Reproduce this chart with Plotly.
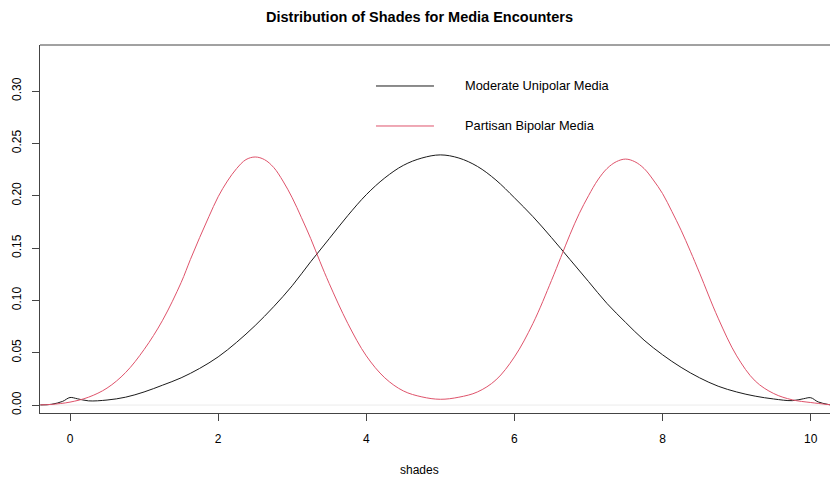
import plotly.graph_objects as go

# Kernel density estimates of shades, read at regular points
unipolar_x = [-0.4, -0.25, -0.1, 0.0, 0.1, 0.25, 0.5, 0.75, 1.0, 1.25, 1.5, 1.75,
              2.0, 2.25, 2.5, 2.75, 3.0, 3.25, 3.5, 3.75, 4.0, 4.25, 4.5, 4.75,
              5.0, 5.25, 5.5, 5.75, 6.0, 6.25, 6.5, 6.75, 7.0, 7.25, 7.5, 7.75,
              8.0, 8.25, 8.5, 8.75, 9.0, 9.25, 9.5, 9.75, 9.9, 10.0, 10.1, 10.26]
unipolar_y = [0.0001, 0.0007, 0.0035, 0.0072, 0.0060, 0.0040, 0.0048, 0.0075, 0.0125, 0.019, 0.026, 0.035,
              0.046, 0.060, 0.076, 0.094, 0.114, 0.137, 0.159, 0.181, 0.201, 0.217, 0.229, 0.236,
              0.239, 0.236, 0.228, 0.215, 0.198, 0.180, 0.160, 0.139, 0.118, 0.097, 0.079, 0.062,
              0.048, 0.036, 0.026, 0.018, 0.0125, 0.0085, 0.0058, 0.0042, 0.0060, 0.0070, 0.0030, 0.0002]

bipolar_x = [-0.4, -0.25, 0.0, 0.25, 0.5, 0.75, 1.0, 1.25, 1.5, 1.625, 1.75, 1.875, 2.0, 2.125, 2.25, 2.375,
             2.5, 2.625, 2.75, 2.875, 3.0, 3.125, 3.25, 3.375, 3.5, 3.75, 4.0, 4.25, 4.5, 4.75, 5.0, 5.25,
             5.5, 5.75, 6.0, 6.25, 6.5, 6.625, 6.75, 6.875, 7.0, 7.125, 7.25, 7.375, 7.5, 7.625, 7.75, 7.875,
             8.0, 8.125, 8.25, 8.375, 8.5, 8.75, 9.0, 9.25, 9.5, 9.75, 10.0, 10.26]
bipolar_y = [0.0002, 0.0006, 0.0028, 0.0075, 0.0162, 0.031, 0.053, 0.081, 0.117, 0.139, 0.160, 0.180, 0.199, 0.214, 0.226, 0.2345,
             0.237, 0.2345, 0.227, 0.214, 0.198, 0.179, 0.159, 0.137, 0.116, 0.078, 0.047, 0.026, 0.0135, 0.0078, 0.0055, 0.0075,
             0.0125, 0.024, 0.046, 0.078, 0.119, 0.141, 0.163, 0.183, 0.200, 0.215, 0.226, 0.2325, 0.235, 0.2325, 0.226, 0.215,
             0.202, 0.185, 0.167, 0.147, 0.126, 0.083, 0.047, 0.023, 0.011, 0.005, 0.0024, 0.0003]

series_names = ["Moderate Unipolar Media", "Partisan Bipolar Media"]
series_colors = ["#1a1a1a", "#DF536B"]

x_ticks = [0, 2, 4, 6, 8, 10]
y_ticks = [0.0, 0.05, 0.10, 0.15, 0.20, 0.25, 0.30]

FONT = "Liberation Sans, Arial, Helvetica, sans-serif"

fig = go.Figure()
for xs, ys, name, color in [(unipolar_x, unipolar_y, series_names[0], series_colors[0]),
                            (bipolar_x, bipolar_y, series_names[1], series_colors[1])]:
    fig.add_trace(go.Scatter(x=xs, y=ys, mode="lines", name=name,
                             line=dict(color=color, width=1, shape="spline", smoothing=1.0),
                             showlegend=False, hoverinfo="skip"))

shapes = [
    # faint zero baseline
    dict(type="line", xref="paper", yref="y", x0=0, x1=1, y0=0, y1=0,
         line=dict(color="#ececec", width=1), layer="below"),
    # top edge of the frame
    dict(type="line", xref="paper", yref="paper", x0=0, x1=1, y0=1, y1=1,
         line=dict(color="#444444", width=1)),
]
annotations = [
    dict(text="<b>Distribution of Shades for Media Encounters</b>", xref="paper", yref="paper",
         x=0.481, y=1.076, xanchor="center", yanchor="middle", showarrow=False,
         font=dict(family=FONT, size=14.5, color="#000000")),
    dict(text="shades", xref="paper", yref="paper", x=0.481, y=-0.155,
         xanchor="center", yanchor="middle", showarrow=False,
         font=dict(family=FONT, size=12, color="#000000")),
]

# legend drawn without a box
leg_rows = [0.8886, 0.7799]
for name, color, yy in zip(series_names, series_colors, leg_rows):
    shapes.append(dict(type="line", xref="paper", yref="paper", x0=0.4253, x1=0.4987,
                       y0=yy, y1=yy, line=dict(color=color, width=1)))
    annotations.append(dict(text=name, xref="paper", yref="paper", x=0.5354, y=yy,
                            xanchor="left", yanchor="middle", showarrow=False,
                            font=dict(family=FONT, size=12.8, color="#000000")))

fig.update_layout(
    width=830, height=480,
    margin=dict(l=40, r=0, t=45, b=67),
    paper_bgcolor="white", plot_bgcolor="white",
    font=dict(family=FONT, size=12, color="#000000"),
    shapes=shapes, annotations=annotations,
    xaxis=dict(range=[-0.405, 10.26], tickvals=x_ticks, ticktext=[str(v) for v in x_ticks],
               showgrid=False, zeroline=False, showline=True, linecolor="#444444", linewidth=1,
               ticks="outside", ticklen=7, tickcolor="#444444", tickwidth=1,
               ticklabelstandoff=8, tickfont=dict(family=FONT, size=12)),
    yaxis=dict(range=[-0.0076, 0.344], tickvals=y_ticks, tickformat=".2f",
               showgrid=False, zeroline=False, showline=True, linecolor="#444444", linewidth=1,
               ticks="outside", ticklen=7, tickcolor="#444444", tickwidth=1,
               tickangle=-90, ticklabelstandoff=6, tickfont=dict(family=FONT, size=12)),
)

fig.write_html("out.html")
